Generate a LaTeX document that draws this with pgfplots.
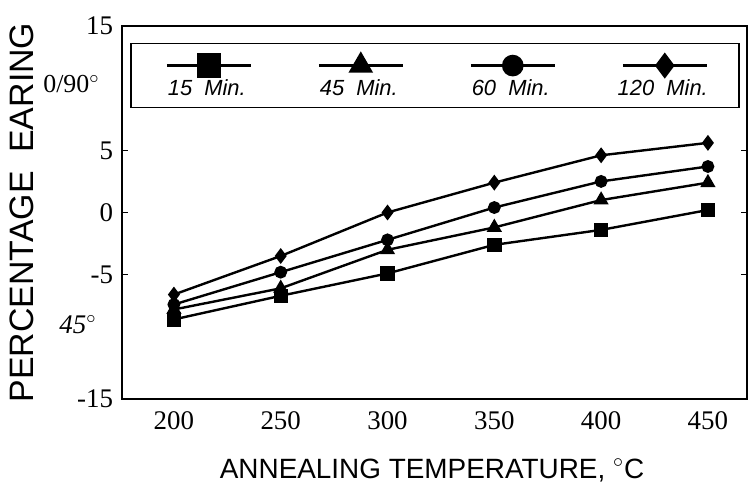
\documentclass[border=0pt]{standalone}
\usepackage{pgfplots}
\pgfplotsset{compat=1.18}
\usepackage{fontspec}
\setmainfont{Liberation Serif}
\newfontfamily\sansf{Liberation Sans}
\pgfplotsset{
  leg/.style={legend image code/.code={
    \path[draw=none] (0bp,-6bp) rectangle (75bp,26bp);
    \draw[mark repeat=2,mark phase=2,##1,mark options={scale=1.85,solid,fill=black}] plot coordinates {(18bp,15bp) (39bp,15bp) (60bp,15bp)};
    \node[draw=none,anchor=base,inner sep=0pt,font=\sansf\itshape\fontsize{11}{13}\selectfont] at (38bp,0bp) {#1};
  }},
}
\begin{document}
\begin{tikzpicture}
\useasboundingbox (0,0) rectangle (374.5bp,250.5bp);
\begin{axis}[
  at={(61bp,51bp)}, anchor=south west,
  scale only axis, width=312.5bp, height=186.5bp,
  xmin=175.7, xmax=468.3, ymin=-15, ymax=15,
  xtick={200,250,300,350,400,450}, ytick={-15,-5,0,5,15},
  axis line style={line width=1bp},
  x tick style={draw=none},
  y tick style={line width=0.6bp, black},
  major tick length=3bp,
  ticklabel style={font=\fontsize{13.5}{15}\selectfont},
  /pgf/number format/assume math mode=true,
  xticklabel style={yshift=-3bp},
  yticklabel style={xshift=-1bp},
  xlabel={ANNEALING TEMPERATURE, $^{\circ}$C},
  xlabel style={at={(axis description cs:0.496,-0.212)}, anchor=base, font=\sansf\fontsize{14}{16}\selectfont},
  ylabel={PERCENTAGE\ \ EARING},
  ylabel style={at={(axis description cs:-0.16,0.5)}, anchor=center, font=\sansf\fontsize{17}{19}\selectfont},
  clip=false,
  legend columns=4,
  legend style={at={(axis description cs:0.0128,0.955)}, anchor=north west, draw=black, line width=0.8bp, inner sep=0pt, column sep=0pt, row sep=0pt, nodes={inner sep=0pt}},
]
\addplot[black, line width=1.2bp, mark=square*, mark size=3bp, leg={15\ \ Min.}] coordinates {(200,-8.6) (250,-6.7) (300,-4.9) (350,-2.6) (400,-1.4) (450,0.2)};
\addlegendentry{}
\addplot[black, line width=1.2bp, mark=triangle*, mark size=3.2bp, leg={45\ \ Min.}] coordinates {(200,-7.8) (250,-6.1) (300,-3.0) (350,-1.2) (400,1.0) (450,2.4)};
\addlegendentry{}
\addplot[black, line width=1.2bp, mark=*, mark size=2.6bp, leg={60\ \ Min.}] coordinates {(200,-7.4) (250,-4.8) (300,-2.2) (350,0.4) (400,2.5) (450,3.7)};
\addlegendentry{}
\addplot[black, line width=1.2bp, mark=diamond*, mark size=3bp, leg={120\ \ Min.}] coordinates {(200,-6.6) (250,-3.5) (300,0.0) (350,2.4) (400,4.6) (450,5.6)};
\addlegendentry{}
\node[anchor=east, inner sep=0pt, xshift=-11bp, font=\fontsize{13}{15}\selectfont] at (rel axis cs:0,0.845) {0/90$^{\circ}$};
\node[anchor=east, inner sep=0pt, xshift=-12.5bp, font=\itshape\fontsize{13.5}{15}\selectfont] at (rel axis cs:0,0.2) {45$^{\circ}$};
\end{axis}
\end{tikzpicture}
\end{document}
